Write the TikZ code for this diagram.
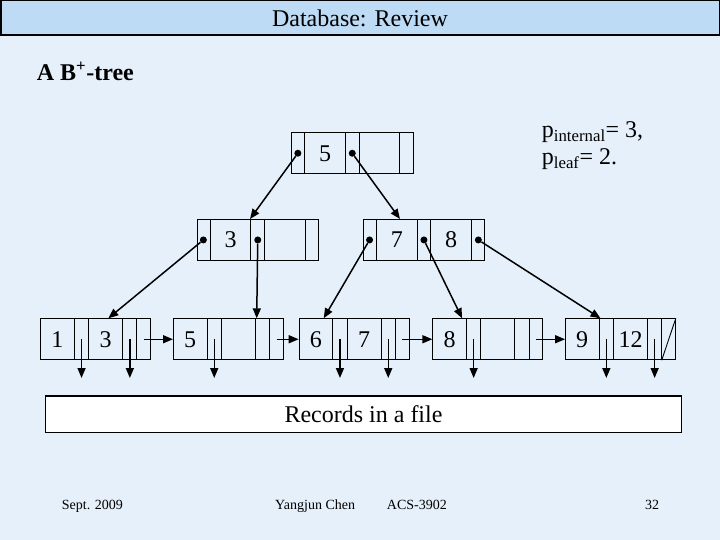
\documentclass[tikz,border=0pt]{standalone}
\usepackage{fontspec}
\setmainfont{Liberation Serif}
\usetikzlibrary{shapes.multipart,arrows.meta,positioning,calc}

\definecolor{slidebg}{RGB}{230,240,250}
\definecolor{barblue}{RGB}{190,219,245}

% cells of a tree node: pointer and key fields
\newcommand{\cell}[2]{\makebox[#1]{\rule[-12.5pt]{0pt}{41pt}#2}}
\newcommand{\ip}{\cell{12.8pt}{}}
\newcommand{\ik}[1]{\cell{39.8pt}{#1}}
\newcommand{\lp}{\cell{13.2pt}{}}
\newcommand{\lk}[1]{\cell{33.3pt}{#1}}

\begin{document}
\begin{tikzpicture}[x=1pt, y=-1pt,
  big/.style={font=\fontsize{24}{28}\selectfont},
  small/.style={font=\fontsize{14}{16}\selectfont},
  head/.style={font=\fontsize{24}{28}\selectfont\bfseries},
  tnode/.style={rectangle split, rectangle split horizontal,
                rectangle split parts=5, draw, line width=0.9pt,
                inner sep=0pt, anchor=north west, big},
  dot/.style={circle, fill, inner sep=0pt, minimum size=7pt},
  arr/.style={-{Triangle[length=10pt,width=8pt]}, line width=1.5pt}]
  \fill[slidebg] (0,0) rectangle (720,540);
  \useasboundingbox (0,0) rectangle (720,540);

  \node[draw, fill=barblue, line width=1.5pt, minimum width=718.5pt,
        minimum height=34.2pt, inner sep=0pt, big] (title) at (360,17.85) {Database: Review};
  \node[head, anchor=base west, inner sep=0pt] (heading) at (36.7,81) {A B\textsuperscript{+}-tree};
  \node[big, anchor=base west, inner sep=0pt] (pint) at (541.7,138) {p\textsubscript{internal}= 3,};
  \node[big, anchor=base west, inner sep=0pt] (pleaf) at (541.7,165) {p\textsubscript{leaf}= 2.};

  % internal nodes
  \node[tnode] (root) at (291,132.3) {\ip\nodepart{two}\ik{5}\nodepart{three}\ip\nodepart{four}\ik{}\nodepart{five}\ip};
  \node[tnode] (li) at (196.5,219) {\ip\nodepart{two}\ik{3}\nodepart{three}\ip\nodepart{four}\ik{}\nodepart{five}\ip};
  \node[tnode] (ri) at (362.7,219) {\ip\nodepart{two}\ik{7}\nodepart{three}\ip\nodepart{four}\ik{8}\nodepart{five}\ip};

  % leaves
  \node[tnode] (l1) at (40.3,318.3) {\lk{1}\nodepart{two}\lp\nodepart{three}\lk{3}\nodepart{four}\lp\nodepart{five}\lp};
  \node[tnode, right=22pt of l1] (l2) {\lk{5}\nodepart{two}\lp\nodepart{three}\lk{}\nodepart{four}\lp\nodepart{five}\lp};
  \node[tnode, right=15pt of l2] (l3) {\lk{6}\nodepart{two}\lp\nodepart{three}\lk{7}\nodepart{four}\lp\nodepart{five}\lp};
  \node[tnode, right=23pt of l3] (l4) {\lk{8}\nodepart{two}\lp\nodepart{three}\lk{}\nodepart{four}\lp\nodepart{five}\lp};
  \node[tnode, right=22pt of l4] (l5) {\lk{9}\nodepart{two}\lp\nodepart{three}\lk{12}\nodepart{four}\lp\nodepart{five}\lp};
  \draw[line width=0.9pt] (l5.four split south) -- (l5.north east);

  \node[draw, fill=white, line width=1.2pt, minimum width=636.4pt,
        minimum height=36.3pt, big] (rec) at (363.5,414.2) {Records in a file};

  \node[small, anchor=base west, inner sep=0pt] (date) at (61.7,509.5) {Sept. 2009};
  \node[small, anchor=base west, inner sep=0pt] (author) at (275,509.5) {Yangjun Chen};
  \node[small, anchor=base west, inner sep=0pt] (course) at (386.7,509.5) {ACS-3902};
  \node[small, anchor=base west, inner sep=0pt] (page) at (645,509.5) {32};

  % pointers of internal nodes
  \node[dot] (r1) at ($(root.west)!.5!(root.one split)$) {};
  \node[dot] (r2) at ($(root.two split)!.5!(root.three split)$) {};
  \node[dot] (li1) at ($(li.west)!.5!(li.one split)$) {};
  \node[dot] (li2) at ($(li.two split)!.5!(li.three split)$) {};
  \node[dot] (ri1) at ($(ri.west)!.5!(ri.one split)$) {};
  \node[dot] (ri2) at ($(ri.two split)!.5!(ri.three split)$) {};
  \node[dot] (ri3) at ($(ri.four split)!.5!(ri.east)$) {};

  \draw[arr] (r1) -- ([xshift=53.5pt]li.north west);
  \draw[arr] (r2) -- ([xshift=37.3pt]ri.north west);
  \draw[arr] (li1) -- ([xshift=68pt]l1.north west);
  \draw[arr] (li2) -- ([xshift=83.7pt]l2.north west);
  \draw[arr] (ri1) -- ([xshift=25pt]l3.north west);
  \draw[arr] (ri2) -- ([xshift=29.7pt]l4.north west);
  \draw[arr] (ri3) -- ([xshift=35.4pt]l5.north west);

  % pointers of leaves
  \coordinate (dn) at (0,378);
  \coordinate (l1a) at ($(l1.one split)!.5!(l1.two split)$);
  \coordinate (l1b) at ($(l1.three split)!.5!(l1.four split)$);
  \coordinate (l2a) at ($(l2.one split)!.5!(l2.two split)$);
  \coordinate (l3a) at ($(l3.one split)!.5!(l3.two split)$);
  \coordinate (l3b) at ($(l3.three split)!.5!(l3.four split)$);
  \coordinate (l4a) at ($(l4.one split)!.5!(l4.two split)$);
  \coordinate (l5a) at ($(l5.one split)!.5!(l5.two split)$);
  \coordinate (l5b) at ($(l5.three split)!.5!(l5.four split)$);
  \draw[arr] (l1a) -- (l1a |- dn);
  \draw[arr] (l1b) -- (l1b |- dn);
  \draw[arr] (l2a) -- (l2a |- dn);
  \draw[arr] (l3a) -- (l3a |- dn);
  \draw[arr] (l3b) -- (l3b |- dn);
  \draw[arr] (l4a) -- (l4a |- dn);
  \draw[arr] (l5a) -- (l5a |- dn);
  \draw[arr] (l5b) -- (l5b |- dn);

  \draw[arr] ($(l1.four split)!.5!(l1.east)$) -- (l2.west);
  \draw[arr] ($(l2.four split)!.5!(l2.east)$) -- (l3.west);
  \draw[arr] ($(l3.four split)!.5!(l3.east)$) -- (l4.west);
  \draw[arr] ($(l4.four split)!.5!(l4.east)$) -- (l5.west);
\end{tikzpicture}
\end{document}
